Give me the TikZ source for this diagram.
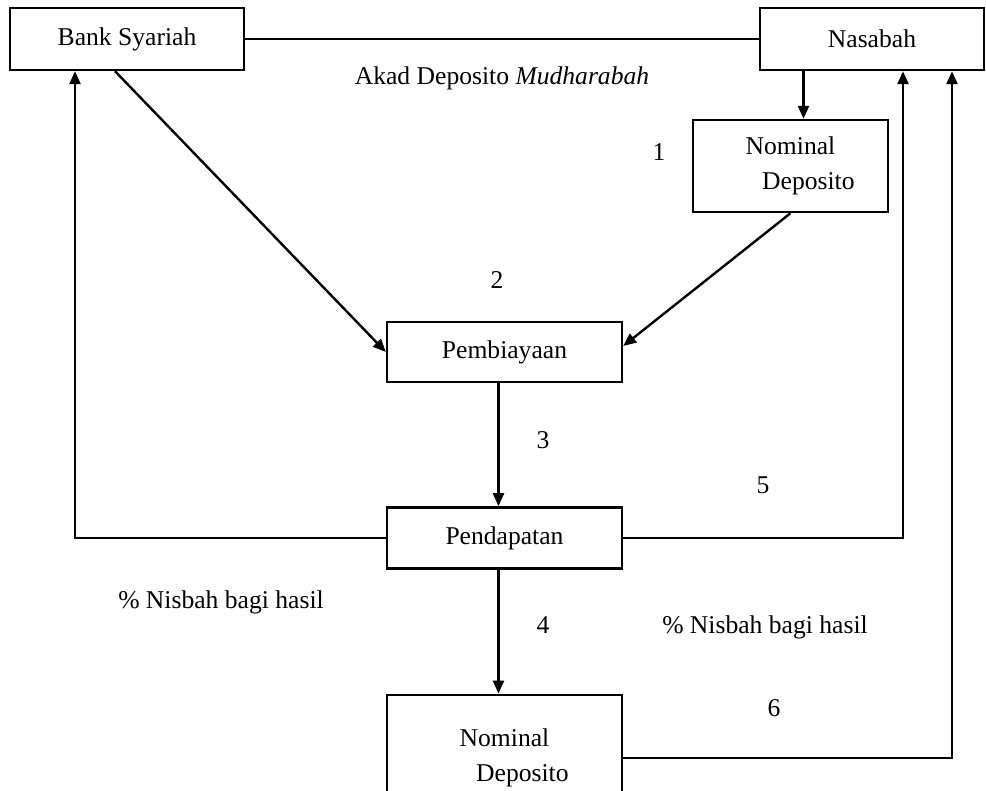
\documentclass[tikz,border=0pt]{standalone}
\usepackage{fontspec}
\setmainfont{Liberation Serif}
\usetikzlibrary{arrows.meta,positioning,calc}

\begin{document}
\begin{tikzpicture}[x=0.5pt,y=-0.5pt,
  font=\fontsize{12.8}{17.5}\selectfont,
  box/.style={draw,line width=1.2pt,inner sep=0pt,align=center},
  arr/.style={-{Triangle[length=6.5pt,width=5.5pt]},line width=1.2pt},
  lin/.style={line width=1.2pt},
  lbl/.style={inner sep=0pt}]
\useasboundingbox (0,0) rectangle (986,791);
\clip (0,0) rectangle (986,791);
\node[box,minimum width=117pt,minimum height=31pt](bank) at (127,39){Bank Syariah};
\node[box,minimum width=112pt,minimum height=31pt](nasabah) at (872,39){Nasabah};
\node[box,minimum width=97.5pt,minimum height=46pt](nomtop) at (790.5,166){Nominal\\\hspace*{1.4em}Deposito};
\node[box,minimum width=117.5pt,minimum height=30pt](pemb) at (504.5,352){Pembiayaan};
\node[box,minimum width=117.5pt,minimum height=30.5pt,below=61.5pt of pemb](pend){Pendapatan};
\node[box,minimum width=117.5pt,minimum height=63pt,below=62pt of pend](nombot){Nominal\\\hspace*{1.4em}Deposito};
\node[lbl](akad) at (502,78){Akad Deposito \textit{Mudharabah}};
\node[lbl](n1) at (659,152){1};
\node[lbl](n2) at (497,280){2};
\node[lbl](n3) at (543,440){3};
\node[lbl](n4) at (543,625){4};
\node[lbl](n5) at (763,485){5};
\node[lbl](n6) at (774,708){6};
\node[lbl](nisbahL) at (221,602){\% Nisbah bagi hasil};
\node[lbl](nisbahR) at (765,627){\% Nisbah bagi hasil};
\coordinate (dep) at ([xshift=6.5pt]nomtop.north);
\draw[lin](bank.east)--(nasabah.west);
\draw[arr](dep |- nasabah.south)--(dep);
\draw[arr]([xshift=-6pt]bank.south)--(pemb.west);
\draw[arr](nomtop.south)--([yshift=3pt]pemb.east);
\draw[arr]([xshift=-3pt]pemb.south)--([xshift=-3pt]pend.north);
\draw[arr](pend.west)-|([xshift=-26pt]bank.south);
\draw[arr](pend.east)-|([xshift=15.5pt]nasabah.south);
\draw[arr]([xshift=-3pt]pend.south)--([xshift=-3pt]nombot.north);
\draw[arr](nombot.east)-|([xshift=40pt]nasabah.south);
\end{tikzpicture}
\end{document}
